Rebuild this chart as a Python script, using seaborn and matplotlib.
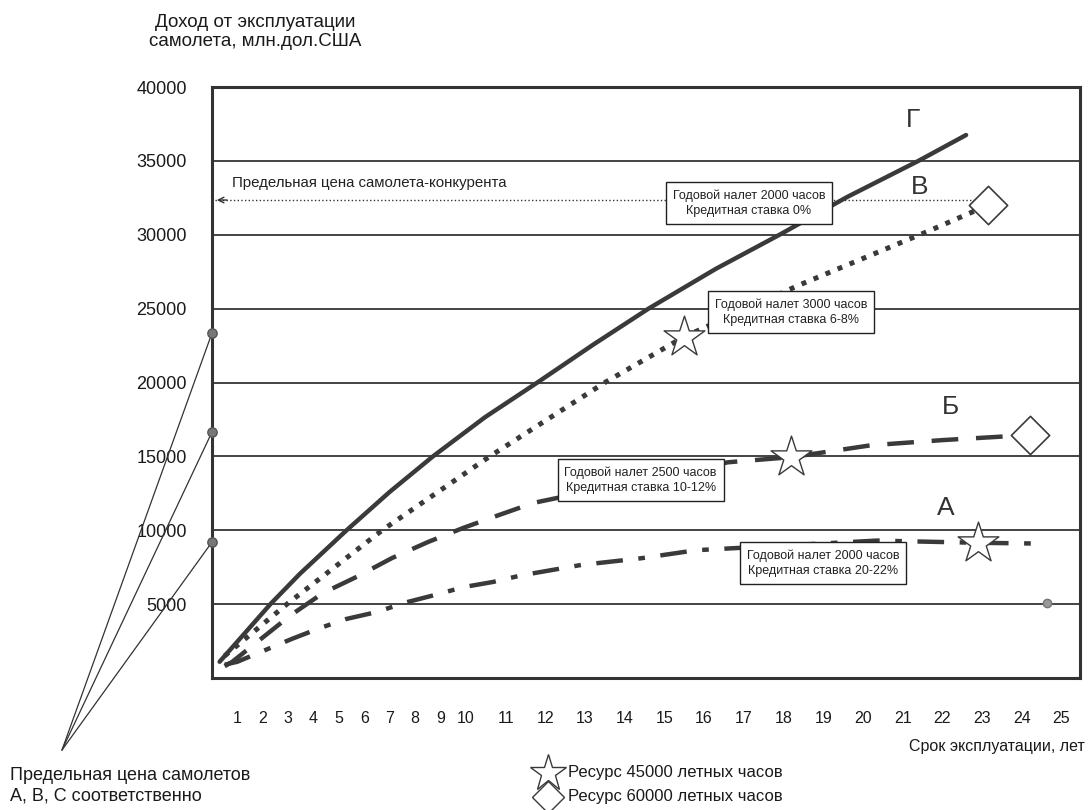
import numpy as np
import seaborn as sns
import matplotlib.pyplot as plt
from matplotlib.lines import Line2D

# 1: Data (years of operation, income in mln USD)
years_g = [0.3, 1.3, 2.3, 3.46, 5.3, 7.0, 8.7, 10.48, 11.8, 13.2, 14.6, 16.3,
           17.9, 19.6, 21.4, 22.6]
income_g = [1100, 3050, 5000, 7050, 10000, 12600, 15000, 17650, 20000, 22550,
            25000, 27700, 30000, 32550, 35000, 36750]

years_v = [0.5, 2.95, 6.7, 10.6, 13.5, 15.5, 18.4, 21.7, 23.15]
income_v = [1500, 5000, 10000, 15000, 20000, 23100, 26600, 30300, 32000]

years_b = [0.5, 0.8, 3.1, 4.37, 5.7, 7.09, 8.5, 9.88, 10.8, 11.7, 16.6, 18.2,
           20.2, 22.0, 24.2]
income_b = [800, 1100, 4250, 5750, 6850, 8120, 9200, 10150, 11000, 11850,
            14600, 14950, 15750, 16100, 16450]

years_a = [0.5, 1.0, 3.15, 4.25, 5.3, 6.5, 7.6, 8.78, 9.9, 10.68, 11.4, 12.9,
           14.4, 15.8, 20.35, 22.9, 24.4]
income_a = [900, 1100, 2650, 3380, 4000, 4470, 5100, 5620, 6150, 6500, 6950,
            7650, 8100, 8650, 9300, 9150, 9100]

star_years = [15.5, 18.2, 22.9]          # resource 45000 flight hours
star_income = [23100, 14950, 9150]
diamond_years = [23.15, 24.2]             # resource 60000 flight hours
diamond_income = [32000, 16450]

limit_prices = [23350, 16650, 9200]       # limit prices of A, B, C
competitor_price = 32350

curve_labels = ['Г', 'В', 'Б', 'А']
box_texts = [
    'Годовой налет 2000 часов\nКредитная ставка 0%',
    'Годовой налет 3000 часов\nКредитная ставка 6-8%',
    'Годовой налет 2500 часов\nКредитная ставка 10-12%',
    'Годовой налет 2000 часов\nКредитная ставка 20-22%',
]
x_ticks = list(range(1, 26))
y_ticks = list(range(5000, 40001, 5000))

# 2: Style
sns.set_style('white')
plt.rcParams['font.family'] = ['Liberation Sans', 'DejaVu Sans']
ink = '#3a3a3a'
txt_col = '#1a1a1a'

fig = plt.figure(figsize=(10.89, 8.10), dpi=100)
ax = fig.add_axes([212 / 1089, 1 - 678 / 810, 868 / 1089, 591 / 810])

# the year axis of the original is stretched after year 10
def fwd(x):
    return np.interp(x, [-10, 0, 10, 40], [-254, 0, 254, 254 + 30 * 39.7])

def inv(y):
    return np.interp(y, [-254, 0, 254, 254 + 30 * 39.7], [-10, 0, 10, 40])

ax.set_xscale('function', functions=(fwd, inv))

# 3: Grid lines
for v in y_ticks[:-1]:
    ax.axhline(v, color='#111', lw=1.1, zorder=1)

# 4: Curves
sns.lineplot(x=years_g, y=income_g, ax=ax, color=ink, lw=3.2, sort=False, zorder=3)
sns.lineplot(x=years_v, y=income_v, ax=ax, color=ink, lw=3.6, sort=False,
             linestyle=(0, (1, 1.6)), zorder=3)
sns.lineplot(x=years_b, y=income_b, ax=ax, color=ink, lw=3.2, sort=False,
             linestyle=(0, (6, 4)), zorder=3)
sns.lineplot(x=years_a, y=income_a, ax=ax, color=ink, lw=3.2, sort=False,
             linestyle=(0, (6, 3.5, 1.5, 3.5)), zorder=3)

# 5: Resource markers
sns.scatterplot(x=star_years, y=star_income, ax=ax, marker='*', s=950,
                color='white', edgecolor=ink, linewidth=1.0, zorder=5)
sns.scatterplot(x=diamond_years, y=diamond_income, ax=ax, marker='D', s=380,
                color='white', edgecolor=ink, linewidth=1.2, zorder=5)
ax.plot([24.64], [5075], 'o', ms=6, color='#999', mec='#777', zorder=4)

# 6: Curve letters
for lab, (xx, yy) in zip(curve_labels, [(21.26, 37800), (21.43, 33200),
                                        (22.2, 18350), (22.1, 11500)]):
    ax.text(xx, yy, lab, fontsize=19, color='#333', ha='center', va='center')

# 7: Condition boxes
for txt, (xx, yy) in zip(box_texts, [(17.13, 32150), (18.2, 24770),
                                     (14.4, 13400), (19.0, 7780)]):
    ax.text(xx, yy, txt, fontsize=9, ha='center', va='center', color='#222',
            linespacing=1.35, zorder=6,
            bbox=dict(boxstyle='square,pad=0.55', fc='white', ec='#222', lw=1.0))

# 8: Competitor price line
ax.plot([0.1, 22.84], [competitor_price, competitor_price], ls=':', lw=1.0,
        color='#333', zorder=2)
ax.annotate('', xy=(0.08, competitor_price), xytext=(0.7, competitor_price),
            arrowprops=dict(arrowstyle='->', lw=1.0, color='#333'))
ax.text(0.79, competitor_price + 650, 'Предельная цена самолета-конкурента',
        fontsize=10.8, color='#222', va='bottom')

# 9: Limit prices on the income axis with leader lines
ax.scatter([0] * len(limit_prices), limit_prices, s=45, color='#777',
           edgecolor='#555', zorder=7, clip_on=False)
for v in limit_prices:
    ax.annotate('', xy=(0, v), xycoords='data', xytext=(62, 60),
                textcoords='figure pixels',
                arrowprops=dict(arrowstyle='-', color='#333', lw=0.9,
                                shrinkA=0, shrinkB=0))

# 10: Axes
ax.set_xlim(0, 25.47)
ax.set_ylim(0, 40000)
ax.set_xticks(x_ticks)
ax.set_xticklabels([str(t) for t in x_ticks])
ax.set_yticks(y_ticks)
ax.set_yticklabels([str(t) for t in y_ticks])
ax.tick_params(axis='x', length=0, pad=24, labelsize=11.5, labelcolor=txt_col)
ax.tick_params(axis='y', length=0, pad=18, labelsize=13, labelcolor=txt_col)
for s in ax.spines.values():
    s.set_color('#333')
    s.set_linewidth(2.2)

# 11: Figure texts
fig.text(255 / 1089, 1 - 32 / 810, 'Доход от эксплуатации\nсамолета, млн.дол.США',
         ha='center', va='center', fontsize=13.5, color=txt_col, linespacing=1.15)
fig.text(1085 / 1089, 1 - 746 / 810, 'Срок эксплуатации, лет', ha='right',
         va='center', fontsize=11.5, color=txt_col)
fig.text(10 / 1089, 1 - 786 / 810, 'Предельная цена самолетов\nА, В, С соответственно',
         ha='left', va='center', fontsize=13, color=txt_col, linespacing=1.3)

# 12: Marker legend
fig.add_artist(Line2D([548 / 1089], [1 - 773 / 810], transform=fig.transFigure,
                      marker='*', ms=28, mfc='white', mec=ink, mew=1.0))
fig.add_artist(Line2D([548 / 1089], [1 - 797 / 810], transform=fig.transFigure,
                      marker='D', ms=16, mfc='white', mec=ink, mew=1.0))
fig.text(568 / 1089, 1 - 773 / 810, 'Ресурс 45000 летных часов', ha='left',
         va='center', fontsize=12, color=txt_col)
fig.text(568 / 1089, 1 - 797 / 810, 'Ресурс 60000 летных часов', ha='left',
         va='center', fontsize=12, color=txt_col)

fig.savefig('out.png', dpi=100)
